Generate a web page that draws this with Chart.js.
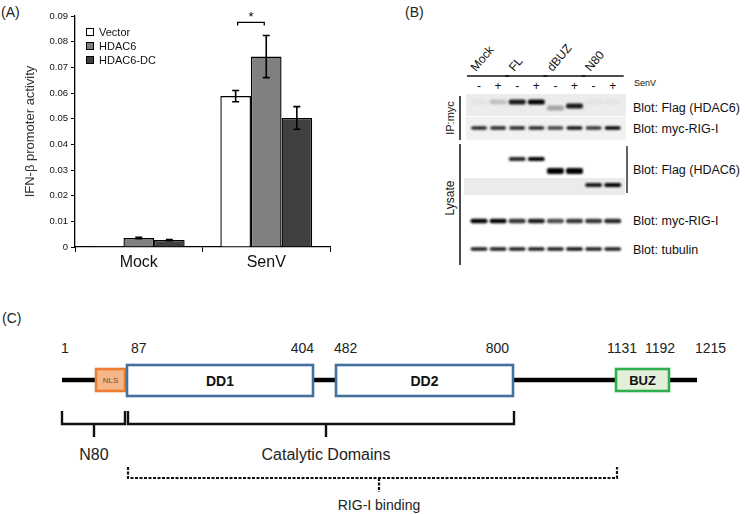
<!DOCTYPE html>
<html><head><meta charset="utf-8">
<script src="https://cdn.jsdelivr.net/npm/chart.js@4/dist/chart.umd.min.js"></script>
<style>
html,body{margin:0;padding:0;background:#fff;}
#page{position:relative;width:745px;height:514px;overflow:hidden;background:#fff;}
#fig{position:absolute;left:0;top:0;}
#chartA{position:absolute;left:0;top:0;}
</style></head><body>
<div id="page">
<svg id="fig" width="745" height="514" xmlns="http://www.w3.org/2000/svg"></svg>
<canvas id="chartA" width="370" height="290"></canvas>
</div>
<script>
// ---------- Panel A data ----------
const categories = ['Mock', 'SenV'];
const seriesNames = ['Vector', 'HDAC6', 'HDAC6-DC'];
const vectorValues = [0.0003, 0.0588];
const hdac6Values = [0.0035, 0.0742];
const hdac6dcValues = [0.0027, 0.0503];
const vectorErrors = [0.0, 0.0022];
const hdac6Errors = [0.0003, 0.0082];
const hdac6dcErrors = [0.0002, 0.0044];
const yTickValues = [0, 0.01, 0.02, 0.03, 0.04, 0.05, 0.06, 0.07, 0.08, 0.09];
const significanceLevel = 0.0875;
const significanceMark = '*';

// ---------- Panel B data ----------
const blotGroups = ['Mock', 'FL', 'dBUZ', 'N80'];
const senvMarks = ['-', '+'];
const ipFlagBands = [0.04, 0.18, 0.9, 1.0, 0.3, 0.9, 0.04, 0.04];
const ipMycBands = [0.85, 0.85, 0.85, 0.85, 0.75, 0.95, 0.8, 1.0];
const lysFlagFLBands = [0, 0, 0.85, 1.0, 0, 0, 0, 0];
const lysFlagDBUZBands = [0, 0, 0, 0, 1.0, 1.0, 0, 0];
const lysN80Bands = [0, 0, 0, 0, 0, 0, 0.9, 1.0];
const lysMycBands = [1.0, 1.0, 0.8, 0.9, 0.7, 0.8, 0.8, 0.85];
const tubulinBands = [0.9, 0.9, 0.9, 0.9, 0.9, 0.95, 0.9, 0.9];
const blotLabels = ['Blot: Flag (HDAC6)', 'Blot: myc-RIG-I', 'Blot: Flag (HDAC6)', 'Blot: myc-RIG-I', 'Blot: tubulin'];
const blotSections = ['IP:myc', 'Lysate'];

// ---------- Panel C data ----------
const residueLabels = ['1', '87', '404', '482', '800', '1131', '1192', '1215'];
const domainNames = ['NLS', 'DD1', 'DD2', 'BUZ'];
const regionNames = ['N80', 'Catalytic Domains', 'RIG-I binding'];

// ---------- Panel A chart ----------
const fills = ['#ffffff', '#808080', '#404040'];
const valueSets = [vectorValues, hdac6Values, hdac6dcValues];
const errorSets = [vectorErrors, hdac6Errors, hdac6dcErrors];
const FONT = '"Liberation Sans", Arial, sans-serif';

const errorBarPlugin = {
  id: 'errorBars',
  afterDatasetsDraw(chart) {
    const ctx = chart.ctx, ys = chart.scales.y;
    ctx.save();
    ctx.strokeStyle = '#000'; ctx.lineWidth = 1.6;
    chart.data.datasets.forEach((ds, di) => {
      const meta = chart.getDatasetMeta(di);
      meta.data.forEach((bar, i) => {
        const e = ds.errors[i]; if (!e) return;
        const v = ds.data[i];
        const yt = ys.getPixelForValue(v + e), yb = ys.getPixelForValue(v - e);
        const x = bar.x, c = 3.5;
        ctx.beginPath();
        ctx.moveTo(x, yt); ctx.lineTo(x, yb);
        ctx.moveTo(x - c, yt); ctx.lineTo(x + c, yt);
        ctx.moveTo(x - c, yb); ctx.lineTo(x + c, yb);
        ctx.stroke();
      });
    });
    ctx.restore();
  }
};

const annotPlugin = {
  id: 'annot',
  afterDraw(chart) {
    const ctx = chart.ctx, a = chart.chartArea, ys = chart.scales.y;
    ctx.save();
    ctx.font = '11px ' + FONT; ctx.textBaseline = 'middle'; ctx.textAlign = 'left';
    chart.data.datasets.forEach((ds, i) => {
      const y = a.top + 16 + i * 14, x = a.left + 11;
      ctx.fillStyle = ds.backgroundColor; ctx.fillRect(x, y - 4, 8, 8);
      ctx.strokeStyle = '#000'; ctx.lineWidth = 1; ctx.strokeRect(x + 0.5, y - 3.5, 7, 7);
      ctx.fillStyle = '#111'; ctx.fillText(ds.label, x + 13, y + 0.5);
    });
    const x1 = chart.getDatasetMeta(0).data[1].x, x2 = chart.getDatasetMeta(1).data[1].x;
    const yb = ys.getPixelForValue(significanceLevel);
    ctx.strokeStyle = '#000'; ctx.lineWidth = 1.3;
    ctx.beginPath();
    ctx.moveTo(x1 + 2, yb + 3); ctx.lineTo(x1 + 2, yb); ctx.lineTo(x2 - 2, yb); ctx.lineTo(x2 - 2, yb + 3);
    ctx.stroke();
    ctx.fillStyle = '#000'; ctx.font = '13px ' + FONT; ctx.textAlign = 'center'; ctx.textBaseline = 'alphabetic';
    ctx.fillText(significanceMark, (x1 + x2) / 2, yb - 1);
    ctx.restore();
  }
};

new Chart(document.getElementById('chartA'), {
  type: 'bar',
  data: {
    labels: categories,
    datasets: seriesNames.map((n, i) => ({
      label: n, data: valueSets[i], errors: errorSets[i],
      backgroundColor: fills[i], borderColor: '#000', borderWidth: 1.4,
      categoryPercentage: 0.72, barPercentage: 1.0
    }))
  },
  options: {
    responsive: false, animation: false, devicePixelRatio: 1,
    layout: { padding: { top: 16, right: 40, left: 0, bottom: 0 } },
    plugins: { legend: { display: false }, tooltip: { enabled: false } },
    scales: {
      x: {
        grid: { display: true, drawOnChartArea: false, offset: true, color: '#000', tickLength: 5, tickWidth: 1 },
        border: { display: true, color: '#000', width: 1.3 },
        ticks: { color: '#111', font: { family: FONT, size: 16 }, padding: 1 },
        afterFit(s) { s.height = 43; }
      },
      y: {
        min: 0, max: 0.09,
        afterBuildTicks(s) { s.ticks = yTickValues.map(v => ({ value: v })); },
        grid: { display: true, drawOnChartArea: false, color: '#000', tickLength: 4 },
        border: { display: true, color: '#000', width: 1.3 },
        ticks: { color: '#111', font: { family: FONT, size: 9.5 }, padding: 3,
          callback: v => (v === 0 ? '0' : String(+v.toFixed(2))) },
        title: { display: true, text: 'IFN-β promoter activity', color: '#333',
          font: { family: FONT, size: 13 }, padding: { top: 23, bottom: 0 } },
        afterFit(s) { s.width = 75; }
      }
    }
  },
  plugins: [errorBarPlugin, annotPlugin]
});

// ---------- SVG helpers ----------
const NS = 'http://www.w3.org/2000/svg';
const svg = document.getElementById('fig');
function el(tag, attrs, text, parent) {
  const e = document.createElementNS(NS, tag);
  for (const k in attrs) e.setAttribute(k, attrs[k]);
  if (text !== undefined) e.textContent = text;
  (parent || svg).appendChild(e);
  return e;
}
const defs = el('defs', {});
const flt = el('filter', { id: 'blur', x: '-50%', y: '-100%', width: '200%', height: '300%' }, undefined, defs);
el('feGaussianBlur', { stdDeviation: '0.9' }, undefined, flt);

el('text', { x: 1, y: 17, 'font-family': 'Liberation Sans, Arial', 'font-size': 14, fill: '#222' }, '(A)');
el('text', { x: 405, y: 17, 'font-family': 'Liberation Sans, Arial', 'font-size': 14, fill: '#222' }, '(B)');
el('text', { x: 2, y: 323, 'font-family': 'Liberation Sans, Arial', 'font-size': 14, fill: '#222' }, '(C)');

// ---------- Panel B: blot ----------
const laneX0 = 479, laneStep = 19.1;
const laneX = i => laneX0 + i * laneStep;
const fontB = 'Liberation Sans, Arial';
blotGroups.forEach((g, gi) => {
  const xa = laneX(gi * 2), xb = laneX(gi * 2 + 1);
  el('line', { x1: xa - 12, y1: 76, x2: xb + 11, y2: 76, stroke: '#111', 'stroke-width': 1.3 });
  el('text', { x: 0, y: 0, 'font-family': fontB, 'font-size': 12, fill: '#111',
    transform: `translate(${xa - 3},72) rotate(-50)` }, g);
  senvMarks.forEach((m, si) => {
    el('text', { x: laneX(gi * 2 + si), y: 90, 'text-anchor': 'middle', 'font-family': fontB,
      'font-size': 12, fill: '#111' }, m);
  });
});
el('text', { x: 634, y: 86, 'font-family': fontB, 'font-size': 9, fill: '#111' }, 'SenV');

el('rect', { x: 466, y: 94, width: 160, height: 22, fill: '#ececec' });
el('rect', { x: 466, y: 117, width: 160, height: 23, fill: '#f1f1f1' });
el('rect', { x: 464, y: 178, width: 161, height: 17, fill: '#ebebeb' });

function bandRow(values, y, w, h, dyFn) {
  values.forEach((v, i) => {
    if (v <= 0) return;
    const dy = dyFn ? dyFn(i) : 0;
    el('rect', { x: laneX(i) - w / 2, y: y + dy - h / 2, width: w, height: h, rx: 2, ry: 2,
      fill: '#000', 'fill-opacity': v, filter: 'url(#blur)' });
  });
}
bandRow(ipFlagBands, 102, 17, 5, i => (i === 4 ? 6 : i === 5 ? 4 : 0));
bandRow(ipMycBands, 128, 16, 3.5);
bandRow(lysFlagFLBands, 159, 17, 4);
bandRow(lysFlagDBUZBands, 171, 17, 6);
bandRow(lysN80Bands, 185, 17, 4);
bandRow(lysMycBands, 221, 17, 4.5);
bandRow(tubulinBands, 249, 17, 3.5);

el('line', { x1: 460, y1: 96, x2: 460, y2: 140, stroke: '#111', 'stroke-width': 1.5 });
el('line', { x1: 460, y1: 144, x2: 460, y2: 265, stroke: '#111', 'stroke-width': 1.5 });
el('line', { x1: 627, y1: 146, x2: 627, y2: 193, stroke: '#111', 'stroke-width': 1.3 });
el('text', { x: 0, y: 0, 'font-family': fontB, 'font-size': 11, fill: '#111', 'text-anchor': 'middle',
  transform: 'translate(454,118) rotate(-90)' }, blotSections[0]);
el('text', { x: 0, y: 0, 'font-family': fontB, 'font-size': 12, fill: '#111', 'text-anchor': 'middle',
  transform: 'translate(454,198) rotate(-90)' }, blotSections[1]);
const blotLabelY = [107, 128, 169, 220, 249];
blotLabels.forEach((t, i) => {
  el('text', { x: 633, y: blotLabelY[i] + 4.5, 'font-family': fontB, 'font-size': 12.5, fill: '#111' }, t);
});

// ---------- Panel C: domain diagram ----------
const fontC = 'Liberation Sans, Arial';
const resPos = [[61, 'start'], [131, 'start'], [314, 'end'], [334, 'start'], [509, 'end'], [607, 'start'], [660, 'middle'], [695, 'start']];
residueLabels.forEach((t, i) => {
  el('text', { x: resPos[i][0], y: 353, 'text-anchor': resPos[i][1], 'font-family': fontC,
    'font-size': 14, fill: '#222' }, t);
});
el('line', { x1: 62, y1: 380, x2: 697, y2: 380, stroke: '#000', 'stroke-width': 4.5 });
const boxes = [
  { x: 96, y: 369, w: 29, h: 22, fill: '#f6b689', stroke: '#ed7d31', fs: 8, fw: 'normal', tc: '#7a4a2a' },
  { x: 127, y: 365, w: 186, h: 31, fill: '#ffffff', stroke: '#41719c', fs: 14, fw: 'bold', tc: '#111' },
  { x: 336, y: 365, w: 177, h: 31, fill: '#ffffff', stroke: '#41719c', fs: 14, fw: 'bold', tc: '#111' },
  { x: 616, y: 369, w: 53, h: 22, fill: '#e2efda', stroke: '#2eb04d', fs: 13, fw: 'bold', tc: '#111' }
];
boxes.forEach((b, i) => {
  el('rect', { x: b.x, y: b.y, width: b.w, height: b.h, fill: b.fill, stroke: b.stroke, 'stroke-width': 2.6 });
  el('text', { x: b.x + b.w / 2, y: b.y + b.h / 2 + b.fs * 0.36, 'text-anchor': 'middle', 'font-family': fontC,
    'font-size': b.fs, 'font-weight': b.fw, fill: b.tc }, domainNames[i]);
});
function bracket(x1, x2, xs, dashed) {
  const st = { stroke: '#111', 'stroke-width': dashed ? 2.2 : 2.4, fill: 'none' };
  if (dashed) st['stroke-dasharray'] = '3,1.5';
  const yTop = dashed ? 467 : 411, yBar = dashed ? 478 : 424, yStem = dashed ? 492 : 437;
  el('path', Object.assign({ d: `M${x1},${yTop} L${x1},${yBar} L${x2},${yBar} L${x2},${yTop} M${xs},${yBar} L${xs},${yStem}` }, st));
}
bracket(62, 125, 94, false);
bracket(128, 514, 326, false);
bracket(128, 617, 379, true);
el('text', { x: 94, y: 460, 'text-anchor': 'middle', 'font-family': fontC, 'font-size': 16, fill: '#222' }, regionNames[0]);
el('text', { x: 326, y: 460, 'text-anchor': 'middle', 'font-family': fontC, 'font-size': 16, fill: '#222' }, regionNames[1]);
el('text', { x: 379, y: 510, 'text-anchor': 'middle', 'font-family': fontC, 'font-size': 14, fill: '#222' }, regionNames[2]);
</script>
</body></html>
